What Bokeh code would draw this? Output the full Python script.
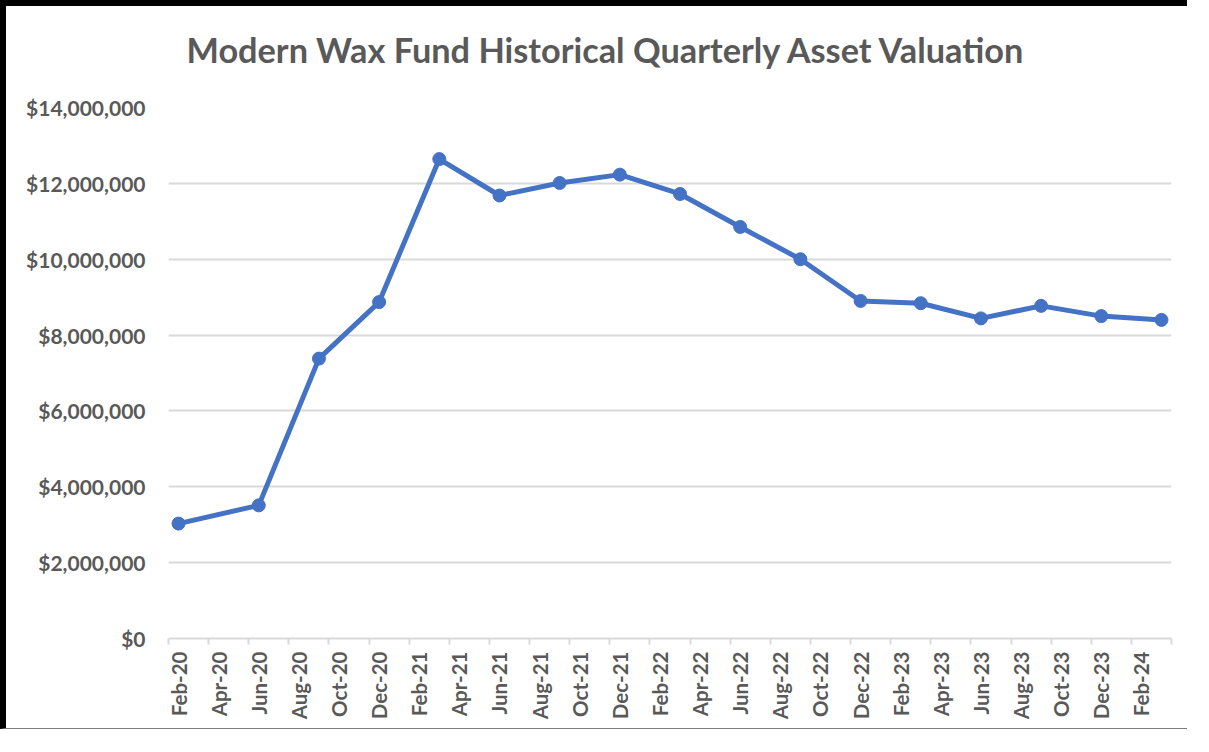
import math
import pandas as pd
from bokeh.plotting import figure
from bokeh.models import Range1d, FixedTicker, NumeralTickFormatter, ColumnDataSource, Title
from bokeh.embed import file_html
from bokeh.resources import INLINE

# ---- data ----
dates = ["Feb-20", "Jun-20", "Sep-20", "Dec-20", "Mar-21", "Jun-21", "Sep-21", "Dec-21",
         "Mar-22", "Jun-22", "Sep-22", "Dec-22", "Mar-23", "Jun-23", "Sep-23", "Dec-23", "Mar-24"]
values = [3030000, 3510000, 7380000, 8870000, 12640000, 11680000, 12010000, 12230000,
          11720000, 10850000, 10000000, 8900000, 8840000, 8440000, 8770000, 8500000, 8400000]
tick_labels = ["Feb-20", "Apr-20", "Jun-20", "Aug-20", "Oct-20", "Dec-20",
               "Feb-21", "Apr-21", "Jun-21", "Aug-21", "Oct-21", "Dec-21",
               "Feb-22", "Apr-22", "Jun-22", "Aug-22", "Oct-22", "Dec-22",
               "Feb-23", "Apr-23", "Jun-23", "Aug-23", "Oct-23", "Dec-23", "Feb-24"]
y_ticks = [0, 2000000, 4000000, 6000000, 8000000, 10000000, 12000000, 14000000]
title_text = "Modern Wax Fund Historical Quarterly Asset Valuation"

START = pd.Timestamp("2020-02-01")


def month_index(label):
    d = pd.to_datetime(label, format="%b-%y")
    return (d.year - START.year) * 12 + (d.month - START.month)


x_vals = [month_index(d) + 0.5 for d in dates]
label_pos = [month_index(t) + 0.5 for t in tick_labels]
boundaries = [month_index(t) for t in tick_labels] + [month_index(tick_labels[-1]) + 2]

src = ColumnDataSource(data=dict(x=x_vals, y=values))

GREY = "#595959"
GRID = "#d9d9d9"
BLUE = "#4472C4"
FONT = "Lato"

p = figure(width=1187, height=729, output_backend="svg", toolbar_location=None,
           x_range=Range1d(boundaries[0], boundaries[-1]), y_range=Range1d(0, 14000000),
           min_border_left=162, min_border_right=22, min_border_top=101, min_border_bottom=97)
p.styles = {"border-top": "6px solid black", "border-left": "6px solid black",
            "border-bottom": "1px solid #7f7f7f"}

# spacer between the plot area and the title, then the title itself
p.add_layout(Title(text=" ", text_font_size="1px", standoff=35), "above")
p.add_layout(Title(text=title_text, align="left", offset=18, standoff=0,
                   vertical_align="bottom",
                   text_font=FONT, text_font_size="34.3px", text_font_style="bold",
                   text_color=GREY), "above")

p.outline_line_color = None
p.background_fill_color = "white"
p.border_fill_color = "white"

p.xgrid.grid_line_color = None
p.ygrid.grid_line_color = GRID
p.ygrid.grid_line_width = 2

# x axis
p.xaxis.ticker = FixedTicker(ticks=label_pos, minor_ticks=boundaries)
p.xaxis.major_label_overrides = {pos: lab for pos, lab in zip(label_pos, tick_labels)}
p.xaxis.major_label_orientation = math.pi / 2
p.xaxis.axis_line_color = GRID
p.xaxis.axis_line_width = 2
p.xaxis.major_tick_line_color = None
p.xaxis.major_tick_out = 0
p.xaxis.major_tick_in = 0
p.xaxis.minor_tick_line_color = GRID
p.xaxis.minor_tick_line_width = 2
p.xaxis.minor_tick_out = 6
p.xaxis.minor_tick_in = 0
p.xaxis.major_label_standoff = 7
p.xaxis.major_label_text_font = FONT
p.xaxis.major_label_text_font_size = "20.5px"
p.xaxis.major_label_text_font_style = "bold"
p.xaxis.major_label_text_color = GREY

# y axis
p.yaxis.ticker = FixedTicker(ticks=y_ticks, minor_ticks=[])
p.yaxis.formatter = NumeralTickFormatter(format="$0,0")
p.yaxis.axis_line_color = None
p.yaxis.major_tick_line_color = None
p.yaxis.minor_tick_line_color = None
p.yaxis.major_tick_out = 0
p.yaxis.major_tick_in = 0
p.yaxis.major_label_standoff = 23
p.yaxis.major_label_text_font = FONT
p.yaxis.major_label_text_font_size = "21px"
p.yaxis.major_label_text_font_style = "bold"
p.yaxis.major_label_text_color = GREY

p.line("x", "y", source=src, line_width=5, line_color=BLUE, line_join="round")
p.scatter("x", "y", source=src, size=13, fill_color=BLUE, line_color=BLUE)

open("out.html", "w").write(file_html(p, INLINE))
